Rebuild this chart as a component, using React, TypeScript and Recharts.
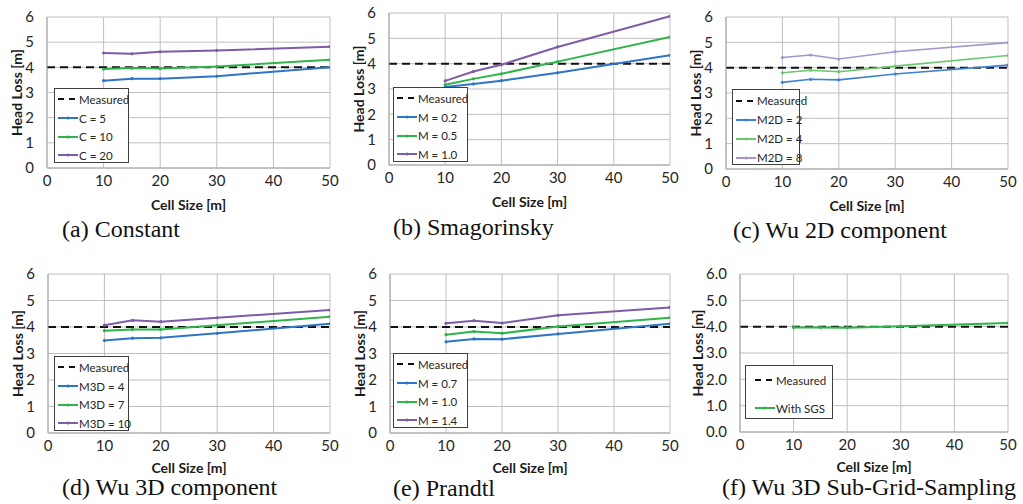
import React from "react";
import {
  LineChart,
  Line,
  XAxis,
  YAxis,
  CartesianGrid,
  Legend,
} from "recharts";

// shared axes
const cellSizes = [10, 15, 20, 30, 50];
const measuredX = [0, 50];
const measuredHeadLoss = 4.0;
const xTicks = [0, 10, 20, 30, 40, 50];
const yTicks = [0, 1, 2, 3, 4, 5, 6];

// (a) Constant
const constNames = ["C = 5", "C = 10", "C = 20"];
const constC5 = [3.47, 3.55, 3.55, 3.65, 4.0];
const constC10 = [3.93, 3.97, 3.95, 4.03, 4.3];
const constC20 = [4.57, 4.54, 4.62, 4.67, 4.82];

// (b) Smagorinsky
const smagNames = ["M = 0.2", "M = 0.5", "M = 1.0"];
const smagM02 = [3.08, 3.2, 3.33, 3.64, 4.33];
const smagM05 = [3.17, 3.4, 3.6, 4.08, 5.05];
const smagM10 = [3.32, 3.69, 3.96, 4.66, 5.87];

// (c) Wu 2D component
const wu2dNames = ["M2D = 2", "M2D = 4", "M2D = 8"];
const wu2dM2 = [3.42, 3.54, 3.52, 3.75, 4.1];
const wu2dM4 = [3.8, 3.9, 3.84, 4.06, 4.48];
const wu2dM8 = [4.4, 4.5, 4.34, 4.63, 4.99];

// (d) Wu 3D component
const wu3dNames = ["M3D = 4", "M3D = 7", "M3D = 10"];
const wu3dM4 = [3.49, 3.58, 3.59, 3.76, 4.12];
const wu3dM7 = [3.86, 3.91, 3.91, 4.07, 4.39];
const wu3dM10 = [4.07, 4.25, 4.2, 4.35, 4.64];

// (e) Prandtl
const prandtlNames = ["M = 0.7", "M = 1.0", "M = 1.4"];
const prandtlM07 = [3.44, 3.55, 3.54, 3.74, 4.12];
const prandtlM10 = [3.71, 3.83, 3.76, 4.02, 4.35];
const prandtlM14 = [4.14, 4.24, 4.15, 4.44, 4.74];

// (f) Wu 3D Sub-Grid-Sampling
const sgsNames = ["With SGS"];
const sgsWith = [3.97, 3.97, 3.96, 4.02, 4.14];

const captions = [
  "(a) Constant",
  "(b) Smagorinsky",
  "(c) Wu 2D component",
  "(d) Wu 3D component",
  "(e) Prandtl",
  "(f) Wu 3D Sub-Grid-Sampling",
];

const BLUE = "#2e75c6";
const GREEN = "#2fb34a";
const PURPLE = "#7e5ca8";
const LIGHT = ["#3f82d4", "#6cc66c", "#a596cf"];

const FONT = "Lato, 'Open Sans', sans-serif";

const buildRows = (series: number[][]) =>
  cellSizes.map((x, i) => {
    const row: Record<string, number> = { x };
    series.forEach((s, k) => (row["s" + k] = s[i]));
    return row;
  });

const measuredRows = measuredX.map((x) => ({ x, m: measuredHeadLoss }));

interface PanelCfg {
  pl: number;
  pt: number;
  pr: number;
  pb: number;
  names: string[];
  series: number[][];
  colors: string[];
  width: number;
  caption: string;
  capX: number;
  capY: number;
  yTitleOff: number;
  xTitleOff: number;
  decimals: number;
  legend: { x: number; y: number; w: number; h: number; row: number; padTop: number; padLeft: number };
}

const panels: PanelCfg[] = [
  {
    pl: 47, pt: 17, pr: 330, pb: 168,
    names: constNames, series: [constC5, constC10, constC20],
    colors: [BLUE, GREEN, PURPLE], width: 2,
    caption: captions[0], capX: 62, capY: 219, yTitleOff: 0, xTitleOff: 3, decimals: 0,
    legend: { x: 54, y: 88, w: 75, h: 75, row: 18.7, padTop: 1, padLeft: 3 },
  },
  {
    pl: 389, pt: 13, pr: 670, pb: 165,
    names: smagNames, series: [smagM02, smagM05, smagM10],
    colors: [BLUE, GREEN, PURPLE], width: 2,
    caption: captions[1], capX: 393, capY: 217, yTitleOff: 0, xTitleOff: 3, decimals: 0,
    legend: { x: 393, y: 87, w: 75, h: 75, row: 18.7, padTop: 1, padLeft: 3 },
  },
  {
    pl: 726, pt: 17, pr: 1008, pb: 169,
    names: wu2dNames, series: [wu2dM2, wu2dM4, wu2dM8],
    colors: LIGHT, width: 1.6,
    caption: captions[2], capX: 733, capY: 220, yTitleOff: 0, xTitleOff: 3, decimals: 0,
    legend: { x: 732, y: 89, w: 68, h: 76, row: 19, padTop: 1, padLeft: 3 },
  },
  {
    pl: 48, pt: 274, pr: 330, pb: 433,
    names: wu3dNames, series: [wu3dM4, wu3dM7, wu3dM10],
    colors: [BLUE, GREEN, PURPLE], width: 2,
    caption: captions[3], capX: 62, capY: 477, yTitleOff: 0, xTitleOff: 5, decimals: 0,
    legend: { x: 54, y: 356, w: 75, h: 75, row: 18.7, padTop: 1, padLeft: 3 },
  },
  {
    pl: 390, pt: 274, pr: 670, pb: 433,
    names: prandtlNames, series: [prandtlM07, prandtlM10, prandtlM14],
    colors: [BLUE, GREEN, PURPLE], width: 2,
    caption: captions[4], capX: 393, capY: 478, yTitleOff: 0, xTitleOff: 5, decimals: 0,
    legend: { x: 393, y: 353, w: 75, h: 75, row: 18.7, padTop: 1, padLeft: 3 },
  },
  {
    pl: 740, pt: 274, pr: 1008, pb: 432,
    names: sgsNames, series: [sgsWith],
    colors: [GREEN], width: 2,
    caption: captions[5], capX: 722, capY: 477, yTitleOff: -12, xTitleOff: 5, decimals: 1,
    legend: { x: 745, y: 365, w: 88, h: 54, row: 28, padTop: 0, padLeft: 9 },
  },
];

const LEFT_PAD = 62;
const Y_AXIS_W = 30;
const TOP_PAD = 10;
const RIGHT_PAD = 12;
const X_AXIS_H = 45;

const LegendBox = ({ cfg }: { cfg: PanelCfg }) => {
  const lg = cfg.legend;
  const items = [
    { name: "Measured", color: "#111", dashed: true },
    ...cfg.names.map((n, i) => ({ name: n, color: cfg.colors[i], dashed: false })),
  ];
  return (
    <div
      style={{
        width: lg.w,
        height: lg.h,
        boxSizing: "border-box",
        border: "1px solid #404040",
        background: "#fff",
        paddingTop: lg.padTop,
        paddingLeft: lg.padLeft,
        fontFamily: FONT,
        fontSize: 11.5,
        color: "#262626",
        whiteSpace: "nowrap",
      }}
    >
      {items.map((it) => (
        <div key={it.name} style={{ height: lg.row, display: "flex", alignItems: "center" }}>
          <svg width={21} height={6} style={{ flexShrink: 0 }}>
            <line
              x1={0}
              y1={3}
              x2={20}
              y2={3}
              stroke={it.color}
              strokeWidth={2}
              strokeDasharray={it.dashed ? "6 5" : undefined}
            />
            {!it.dashed && <circle cx={10} cy={3} r={1.6} fill={it.color} />}
          </svg>
          <span style={{ whiteSpace: "nowrap" }}>{it.name}</span>
        </div>
      ))}
    </div>
  );
};

const Panel = ({ cfg }: { cfg: PanelCfg }) => {
  const left = cfg.pl - LEFT_PAD;
  const top = cfg.pt - TOP_PAD;
  const w = cfg.pr - cfg.pl + LEFT_PAD + RIGHT_PAD;
  const h = cfg.pb - cfg.pt + TOP_PAD + X_AXIS_H;
  const rows = buildRows(cfg.series);
  return (
    <div style={{ position: "absolute", left, top, width: w, height: h }}>
      <LineChart
        width={w}
        height={h}
        data={rows}
        margin={{ top: TOP_PAD, right: RIGHT_PAD, left: LEFT_PAD - Y_AXIS_W, bottom: 0 }}
      >
        <CartesianGrid stroke="#bfbfbf" strokeWidth={1} />
        <XAxis
          dataKey="x"
          type="number"
          domain={[0, 50]}
          ticks={xTicks}
          height={X_AXIS_H}
          axisLine={{ stroke: "#a6a6a6" }}
          tickLine={false}
          tickMargin={1}
          tick={{ fill: "#262626", fontSize: 15, fontFamily: FONT }}
          allowDataOverflow
          label={{
            value: "Cell Size [m]",
            position: "insideBottom",
            offset: cfg.xTitleOff,
            style: { fill: "#1a1a1a", fontSize: 14, fontWeight: 700, fontFamily: FONT },
          }}
        />
        <YAxis
          type="number"
          domain={[0, 6]}
          ticks={yTicks}
          width={Y_AXIS_W}
          axisLine={{ stroke: "#a6a6a6" }}
          tickLine={false}
          tickMargin={7}
          tickFormatter={(v: number) => v.toFixed(cfg.decimals)}
          tick={{ fill: "#262626", fontSize: 15, fontFamily: FONT }}
          label={{
            value: "Head Loss [m]",
            angle: -90,
            position: "insideLeft",
            offset: cfg.yTitleOff,
            style: { textAnchor: "middle", fill: "#1a1a1a", fontSize: 14, fontWeight: 700, fontFamily: FONT },
          }}
        />
        <Legend
          layout="vertical"
          align="center"
          verticalAlign="middle"
          wrapperStyle={{ left: cfg.legend.x - left, top: cfg.legend.y - top, width: cfg.legend.w }}
          content={() => <LegendBox cfg={cfg} />}
        />
        <Line
          data={measuredRows}
          dataKey="m"
          name="Measured"
          stroke="#111"
          strokeWidth={2}
          strokeDasharray="8 5"
          dot={false}
          isAnimationActive={false}
        />
        {cfg.series.map((_, k) => (
          <Line
            key={k}
            dataKey={"s" + k}
            name={cfg.names[k]}
            stroke={cfg.colors[k]}
            strokeWidth={cfg.width}
            dot={{ r: 1.6, strokeWidth: 0, fill: cfg.colors[k] }}
            isAnimationActive={false}
          />
        ))}
      </LineChart>
      <div
        style={{
          position: "absolute",
          left: cfg.capX - left,
          top: cfg.capY - top,
          fontFamily: "'Liberation Serif', 'Times New Roman', serif",
          fontSize: 24,
          color: "#111",
          whiteSpace: "nowrap",
          lineHeight: "20px",
        }}
      >
        {cfg.caption}
      </div>
    </div>
  );
};

export default function App() {
  return (
    <div
      style={{
        position: "absolute",
        left: 0,
        top: 0,
        width: 1023,
        height: 504,
        background: "#fff",
        overflow: "hidden",
      }}
    >
      {panels.map((p, i) => (
        <Panel key={i} cfg={p} />
      ))}
    </div>
  );
}
